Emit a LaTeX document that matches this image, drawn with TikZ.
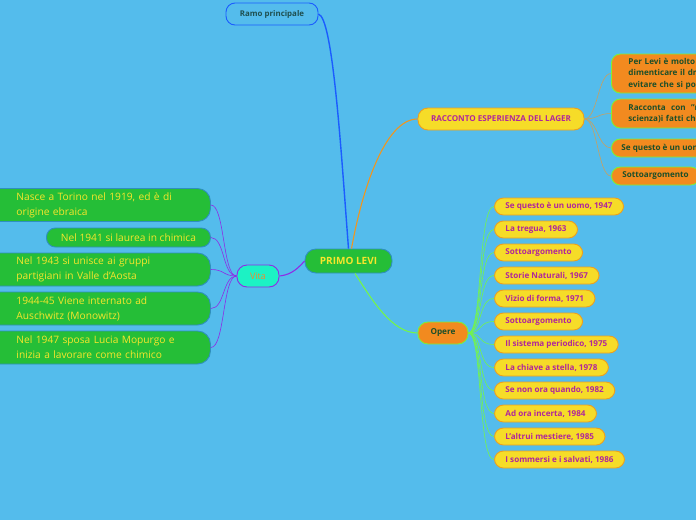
\documentclass[tikz,border=0pt]{standalone}
\usepackage{fontspec}
\setmainfont{Open Sans}
\definecolor{bg}{RGB}{84,188,236}
\definecolor{gfill}{RGB}{37,190,55}
\definecolor{gborder}{RGB}{47,143,190}
\definecolor{ytext}{RGB}{247,230,43}
\definecolor{yfill}{RGB}{246,220,40}
\definecolor{yborder}{RGB}{236,160,32}
\definecolor{mtext}{RGB}{176,39,155}
\definecolor{ofill}{RGB}{242,138,31}
\definecolor{oborder}{RGB}{123,240,58}
\definecolor{otext}{RGB}{28,79,42}
\definecolor{cfill}{RGB}{28,242,196}
\definecolor{pborder}{RGB}{143,43,230}
\definecolor{vtext}{RGB}{240,138,48}
\definecolor{bblue}{RGB}{27,92,255}
\definecolor{rtext}{RGB}{31,79,79}
\definecolor{lgreen}{RGB}{116,245,74}
\definecolor{tan}{RGB}{200,160,96}
\definecolor{orline}{RGB}{240,150,30}
\tikzset{
  pill/.style={rounded corners=9pt, line width=0.9pt, inner ysep=0pt},
  vchild/.style={pill, rounded corners=13pt, draw=gborder, fill=gfill, text=ytext, font=\fontsize{10.2}{15}\selectfont, anchor=west, align=left},
  ochild/.style={pill, draw=yborder, fill=yfill, text=mtext, font=\bfseries\fontsize{8.1}{9}\selectfont, anchor=west, inner xsep=11pt, minimum height=17pt},
  rchild/.style={pill, draw=oborder, fill=ofill, text=otext, font=\bfseries\fontsize{8.1}{11.5}\selectfont, anchor=west, align=left},
  vline/.style={pborder, line width=0.6pt},
  oline/.style={lgreen, line width=0.6pt},
  rline/.style={tan, line width=0.6pt},
}
\begin{document}
\begin{tikzpicture}[x=1pt,y=-1pt]
\useasboundingbox (0,0) rectangle (696,520);
\clip (0,0) rectangle (696,520);
\fill[bg] (0,0) rectangle (696,520);

% main nodes
\node[pill, draw=bblue, text=rtext, font=\bfseries\fontsize{7.9}{9}\selectfont, minimum width=92pt, minimum height=22pt] (ramo) at (272,14) {Ramo principale};
\node[pill, rounded corners=11pt, draw=gborder, fill=gfill, text=ytext, font=\bfseries\fontsize{10}{11}\selectfont, minimum width=87pt, minimum height=24pt] (primo) at (348.5,261) {PRIMO LEVI};
\node[pill, rounded corners=10pt, draw=yborder, fill=yfill, text=mtext, font=\bfseries\fontsize{8.1}{9}\selectfont, minimum width=166pt, minimum height=22pt] (racc) at (501,119) {RACCONTO ESPERIENZA DEL LAGER};
\node[pill, rounded corners=10pt, draw=oborder, fill=ofill, text=otext, font=\bfseries\fontsize{8.2}{9}\selectfont, minimum width=50pt, minimum height=22pt] (opere) at (443,333) {Opere};
\node[pill, rounded corners=10pt, draw=pborder, fill=cfill, text=vtext, font=\fontsize{9}{9}\selectfont, minimum width=42pt, minimum height=22pt] (vita) at (258,276) {Vita};

% main connectors
\draw[bblue, line width=1.4pt] (primo.north) .. controls (341,150) and (333,18) .. (ramo.east);
\draw[orline, line width=1.1pt] ([xshift=3pt]primo.north) .. controls (362,190) and (385,119) .. (racc.west);
\draw[lgreen, line width=1.1pt] ([xshift=6.5pt]primo.south) .. controls (372,300) and (392,333) .. (opere.west);
\draw[pborder, line width=1.1pt] (primo.west) .. controls (295,272) and (288,275) .. (vita.east);

% Racconto children
\node[rchild, inner xsep=17pt, text width=200pt, minimum height=39pt] (r1) at (611,73.5) {Per Levi è molto importante non\\dimenticare il dramma vissuto per\\evitare che si possa ripetere};
\node[rchild, inner xsep=17pt, text width=200pt, minimum height=29pt] (r2) at (611,113.5) {Racconta~ con ~"memoria" (e co-\\scienza)i fatti che ha vissuto};
\node[rchild, inner xsep=10pt, minimum height=18pt] (r3) at (611,148) {Se questo è un uomo, 1947};
\node[rchild, inner xsep=11pt, minimum height=18pt] (r4) at (611,176) {Sottoargomento};
\foreach \n in {r1,r2,r3,r4}
  \draw[rline] (racc.east) .. controls +(13,0) and +(-13,0) .. (\n.west);

% Opere children
\node[ochild] (o1) at (494,206.5) {Se questo è un uomo, 1947};
\node[ochild] (o2) at (494,229.5) {La tregua, 1963};
\node[ochild] (o3) at (494,252.5) {Sottoargomento};
\node[ochild] (o4) at (494,275.5) {Storie Naturali, 1967};
\node[ochild] (o5) at (494,298.5) {Vizio di forma, 1971};
\node[ochild] (o6) at (494,321.5) {Sottoargomento};
\node[ochild] (o7) at (494,344.5) {Il sistema periodico, 1975};
\node[ochild] (o8) at (494,367.5) {La chiave a stella, 1978};
\node[ochild] (o9) at (494,390.5) {Se non ora quando, 1982};
\node[ochild] (o10) at (494,413.5) {Ad ora incerta, 1984};
\node[ochild] (o11) at (494,436.5) {L'altrui mestiere, 1985};
\node[ochild] (o12) at (494,459.5) {I sommersi e i salvati, 1986};
\foreach \n in {o1,o2,o3,o4,o5,o6,o7,o8,o9,o10,o11,o12}
  \draw[oline] (opere.east) .. controls +(14,0) and +(-16,0) .. (\n.west);

% Vita children
\node[vchild, inner xsep=30pt, text width=164pt, minimum height=33pt] (v1) at (-14,205) {Nasce a Torino nel 1919, ed è di\\origine ebraica};
\node[vchild, rounded corners=9pt, inner xsep=12pt, minimum width=164pt, minimum height=19pt] (v2) at (46,237.5) {Nel 1941 si laurea in chimica};
\node[vchild, inner xsep=30pt, text width=164pt, minimum height=33pt] (v3) at (-14,269.5) {Nel 1943 si unisce ai gruppi\\partigiani in Valle d'Aosta};
\node[vchild, inner xsep=30pt, text width=164pt, minimum height=33pt] (v4) at (-14,308.5) {1944-45 Viene internato ad\\Auschwitz (Monowitz)};
\node[vchild, inner xsep=30pt, text width=164pt, minimum height=33pt] (v5) at (-14,347.5) {Nel 1947 sposa Lucia Mopurgo e\\inizia a lavorare come chimico};
\foreach \n in {v1,v2,v3,v4,v5}
  \draw[vline] (vita.west) .. controls +(-14,0) and +(14,0) .. (\n.east);
\end{tikzpicture}
\end{document}
